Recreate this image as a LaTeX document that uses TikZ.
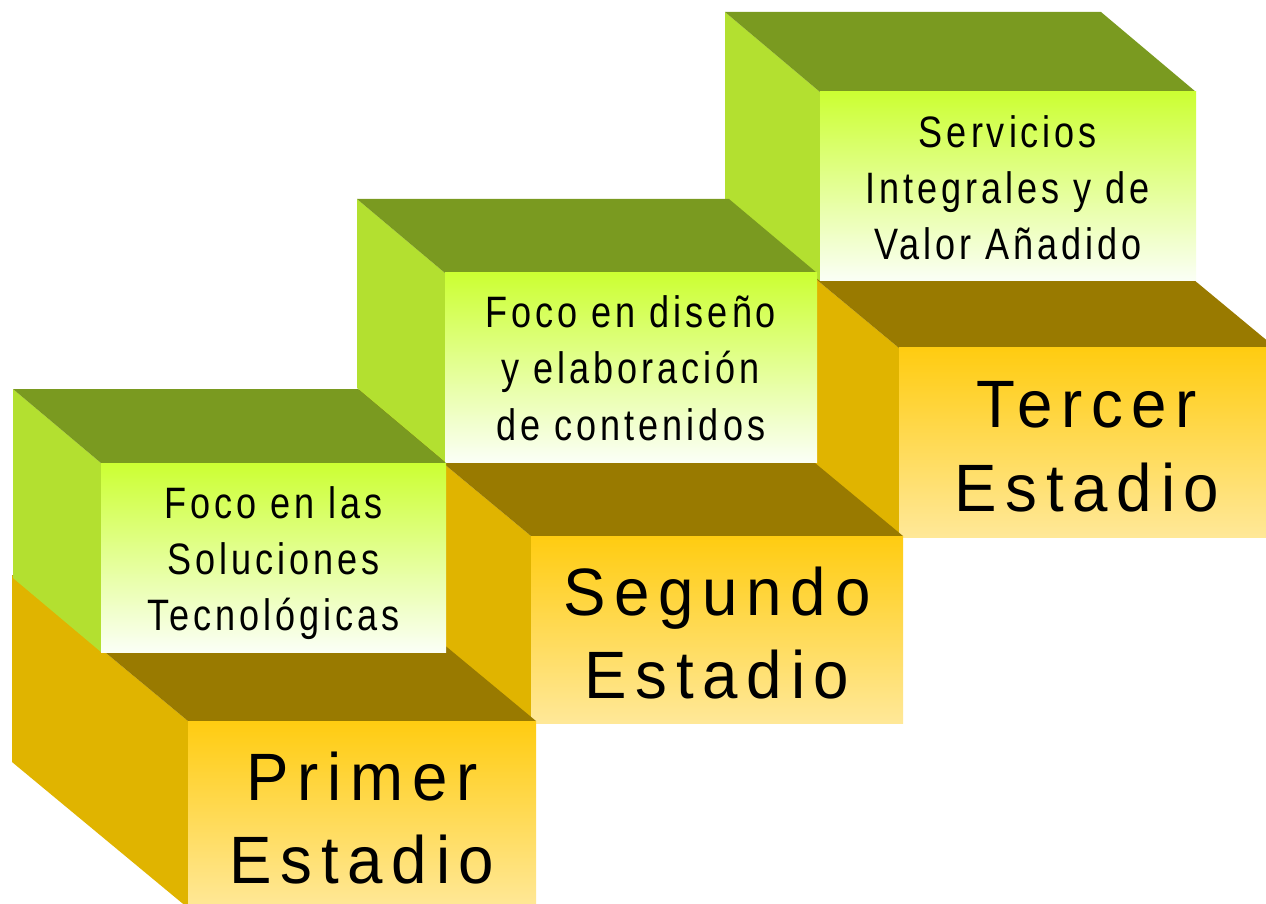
\documentclass[tikz,border=0pt]{standalone}
\usepackage{fontspec}
\setmainfont{Liberation Sans}
\newfontfamily\stepsmallfont[FakeStretch=0.82,LetterSpace=9]{Liberation Sans}
\newfontfamily\stepbigfont[FakeStretch=0.95,LetterSpace=13]{Liberation Sans}
\definecolor{gTopC}{HTML}{7A9A20}
\definecolor{gSideC}{HTML}{B3E030}
\definecolor{gFrontTopC}{HTML}{CCFF33}
\definecolor{gFrontBotC}{HTML}{FBFFF6}
\definecolor{yTopC}{HTML}{997A00}
\definecolor{ySideC}{HTML}{E0B400}
\definecolor{yFrontTopC}{HTML}{FFCC11}
\definecolor{yFrontBotC}{HTML}{FFE898}
\tikzset{
  gside/.style={fill=gSideC},
  gtop/.style={fill=gTopC},
  gfront/.style={top color=gFrontTopC,bottom color=gFrontBotC},
  yside/.style={fill=ySideC},
  ytop/.style={fill=yTopC},
  yfront/.style={top color=yFrontTopC,bottom color=yFrontBotC},
  gtext/.style={font=\stepsmallfont\fontsize{22}{26}\selectfont,anchor=base,inner sep=0pt,text=black},
  ytext/.style={font=\stepbigfont\fontsize{33.5}{40}\selectfont,anchor=base,inner sep=0pt,text=black}
}
% #1 x0, #2 y0, #3 x1, #4 y1, #5 dx, #6 dy, #7 kind (g or y)
\newcommand\drawblock[7]{%
  \fill[#7side] ({#1-#5},{#2-#6}) -- (#1,#2) -- (#1,#4) -- ({#1-#5},{#4-#6}) -- cycle;
  \fill[#7top] ({#1-#5},{#2-#6}) -- ({#3-#5},{#2-#6}) -- (#3,#2) -- (#1,#2) -- cycle;
  \shade[#7front] (#1,#2) rectangle (#3,#4);
}
\begin{document}
\begin{tikzpicture}[x=0.5pt,y=-0.5pt]
\useasboundingbox (0,0) rectangle (1266,904);
\fill[white] (0,0) rectangle (1266,904);
\clip (0,0) rectangle (1266,904);
% third step
\drawblock{899}{348}{1276}{537}{176}{146}{y}
\drawblock{820}{92}{1196}{281}{95}{80}{g}
% second step
\drawblock{531}{536}{903}{723}{176}{146}{y}
\drawblock{445}{273}{817}{462}{88}{74}{g}
% first step
\drawblock{188}{721}{536}{908}{176}{146}{y}
\drawblock{101}{463}{446}{652}{88}{74}{g}
% texts
\node[gtext] (g1a) at (273.5,518) {Foco en las};
\node[gtext] (g1b) at (273.5,574) {Soluciones};
\node[gtext] (g1c) at (273.5,630) {Tecnológicas};
\node[gtext] (g2a) at (631,328) {Foco en diseño};
\node[gtext] (g2b) at (631,384) {y elaboración};
\node[gtext] (g2c) at (631,440) {de contenidos};
\node[gtext] (g3a) at (1008,148) {Servicios};
\node[gtext] (g3b) at (1008,204) {Integrales y de};
\node[gtext] (g3c) at (1008,260) {Valor Añadido};
\node[ytext] (y1a) at (362,800) {Primer};
\node[ytext] (y1b) at (362,883) {Estadio};
\node[ytext] (y2a) at (717,615) {Segundo};
\node[ytext] (y2b) at (717,698) {Estadio};
\node[ytext] (y3a) at (1087,428) {Tercer};
\node[ytext] (y3b) at (1087,511) {Estadio};
\end{tikzpicture}
\end{document}
